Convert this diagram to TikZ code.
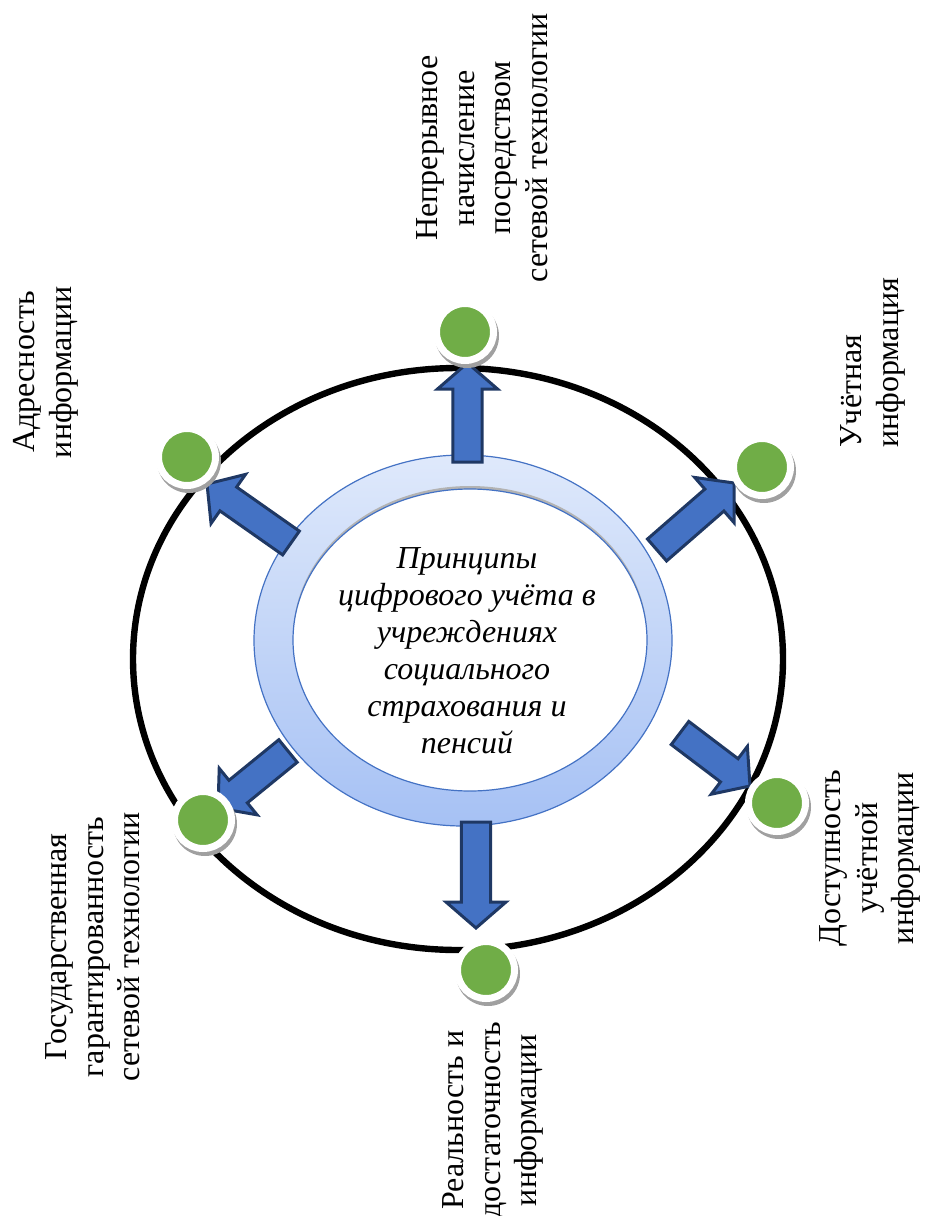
\documentclass[tikz,border=0pt]{standalone}
\usepackage{fontspec}
\setmainfont{Liberation Serif}
\usetikzlibrary{calc}
\definecolor{arrowfill}{HTML}{4472C4}
\definecolor{arrowedge}{HTML}{1F3864}
\definecolor{dotgreen}{HTML}{70AD47}
\definecolor{ringtop}{HTML}{DFE9FB}
\definecolor{ringbottom}{HTML}{A6C1F4}
\definecolor{ringedge}{HTML}{4472C4}
\definecolor{dotshadow}{HTML}{A0A0A0}

\tikzset{
  lbl/.style={rotate=90, align=center, inner sep=0pt,
    font=\fontsize{24}{27.4}\selectfont},
  dot/.style={circle, fill=dotgreen, draw=white, line width=5.25pt,
    minimum size=42.75pt, inner sep=0pt},
  dotshade/.style={fill=dotshadow},
  blockarrow/.style={fill=arrowfill, draw=arrowedge, line width=2.25pt,
    line join=miter},
  orbit/.style={draw=black, line width=4.8pt},
}

% block arrow from a named tail coordinate to a named tip coordinate
\newcommand\blockarrow[2]{%
  \coordinate (hb) at ($(#2)!19.5pt!(#1)$);
  \draw[blockarrow]
    ($(#1)!10.9pt!90:(#2)$) -- ($(hb)!10.9pt!90:(#2)$)
    -- ($(hb)!22.5pt!90:(#2)$) -- (#2)
    -- ($(hb)!22.5pt!-90:(#2)$) -- ($(hb)!10.9pt!-90:(#2)$)
    -- ($(#1)!10.9pt!-90:(#2)$) -- cycle;}

% green dot with a white rim and a grey shadow below it
\newcommand\greendot[2]{%
  \fill[dotshade] ($(#2)+(2,4)$) circle (24pt);
  \node[dot] (#1) at (#2) {};}

\begin{document}
\begin{tikzpicture}[x=0.75pt,y=-0.75pt]
\useasboundingbox (0,0) rectangle (926,1216);

% outer orbit
\draw[orbit] (458,659) ellipse [x radius=325, y radius=291];

% gradient ring around the centre
\path[shade, top color=ringtop, bottom color=ringbottom, draw=ringedge,
  line width=0.9pt] (463,640.5) ellipse [x radius=209, y radius=185.5];
\fill[dotshadow!80] (470,637) ellipse [x radius=177, y radius=151];
\path[fill=white, draw=ringedge, line width=0.9pt]
  (470,640) ellipse [x radius=177, y radius=151];

\node[align=center, inner sep=0pt,
  font=\fontsize{24}{27.75}\selectfont\itshape] (core) at (467,651)
  {Принципы\\цифрового учёта в\\учреждениях\\социального\\страхования и\\пенсий};

% arrow tails on the ring and tips near the dots
\coordinate (tail1) at (467.5,462);  \coordinate (tip1) at (467.5,363);
\coordinate (tail2) at (657,550);    \coordinate (tip2) at (734,483);
\coordinate (tail3) at (680,733);    \coordinate (tip3) at (750,786);
\coordinate (tail4) at (476,822);    \coordinate (tip4) at (476,928);
\coordinate (tail5) at (288,751);    \coordinate (tip5) at (218,808);
\coordinate (tail6) at (291,543);    \coordinate (tip6) at (207,484);

\blockarrow{tail1}{tip1}
\blockarrow{tail2}{tip2}
\blockarrow{tail3}{tip3}
\blockarrow{tail4}{tip4}
\blockarrow{tail5}{tip5}
\blockarrow{tail6}{tip6}

% dot centres
\coordinate (c1) at (465,332);
\coordinate (c2) at (762,467);
\coordinate (c3) at (777,803);
\coordinate (c4) at (486,970);
\coordinate (c5) at (203,820);
\coordinate (c6) at (187,457);

\greendot{d1}{c1}
\greendot{d2}{c2}
\greendot{d3}{c3}
\greendot{d4}{c4}
\greendot{d5}{c5}
\greendot{d6}{c6}

% rotated captions
\node[lbl] (t1) at (482,148)
  {Непрерывное\\начисление\\посредством\\сетевой технологии};
\node[lbl] (t6) at (46,372) {Адресность\\информации};
\node[lbl, align=left, anchor=west] (t2) at (873,448) {Учётная\\информация};
\node[lbl] (t3) at (870,858) {Доступность\\учётной\\информации};
\node[lbl] (t4) at (493,1120) {Реальность и\\достаточность\\информации};
\node[lbl] (t5) at (93,947)
  {Государственная\\гарантированность\\сетевой технологии};
\end{tikzpicture}
\end{document}
